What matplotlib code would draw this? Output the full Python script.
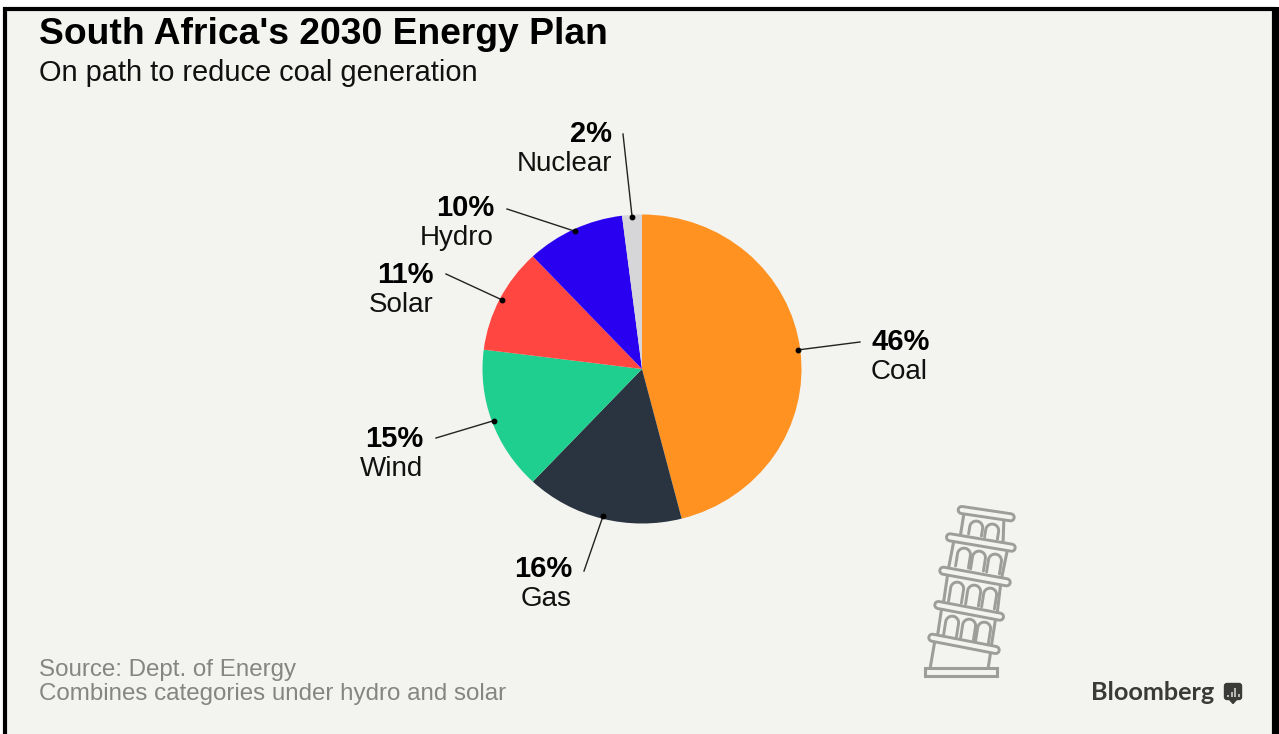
import numpy as np
from matplotlib import pyplot as plt
from matplotlib.patches import Rectangle, FancyBboxPatch

categories = ['Coal', 'Gas', 'Wind', 'Solar', 'Hydro', 'Nuclear']
shares = [46, 16, 15, 11, 10, 2]
colors = ['#ff9220', '#2a3440', '#1fcf90', '#ff4640', '#2a00f0', '#d6d6d8']

W, H = 1279, 734
BG = '#f3f3ef'
GRAY = '#9d9d99'
FONT = 'Liberation Sans'

# pie box in pixels, the source image is a little squashed
CX, CY = 642, 369
RX, RY = 159.5, 154.5

# leader outer ends and label anchors, in pixels
leader_ends = [(860, 342), (584, 571), (436, 438), (446, 274), (507, 209), (623, 134)]
label_x = [871, 572, 423, 434, 494, 612]
label_y = [342, 569, 439, 275, 208, 134]
label_ha = ['left', 'right', 'right', 'right', 'right', 'right']


def tower_line(ax, xs, ys, lw=2.2, color=GRAY, zorder=3, cap='round'):
    ax.plot(xs, ys, color=color, lw=lw, solid_capstyle=cap, solid_joinstyle='round', zorder=zorder)


def draw_band(ax, p0, p1):
    xs, ys = [p0[0], p1[0]], [p0[1], p1[1]]
    tower_line(ax, xs, ys, lw=7.2, zorder=5)
    tower_line(ax, xs, ys, lw=3.0, color=BG, zorder=6)


def draw_arch(ax, base, width, height, angle):
    # arch stands on the band below, rotated with the tower
    t = np.linspace(np.pi, 0, 30)
    r = width / 2
    x = np.concatenate([[-r], r * np.cos(t), [r]])
    y = np.concatenate([[0], height - r + r * np.sin(t), [0]])
    c, s = np.cos(angle), np.sin(angle)
    tower_line(ax, base[0] + c * x + s * y, base[1] + s * x - c * y, lw=2.1)


def draw_tower(ax):
    bands = [((961.7, 510.0), (1010.7, 517.3)),
             ((950.0, 537.3), (1011.7, 547.7)),
             ((943.3, 570.7), (1006.7, 582.3)),
             ((938.3, 605.0), (1000.0, 616.7)),
             ((932.3, 637.7), (995.7, 650.0))]
    walls = [((964, 513), (960, 538), (1004, 516), (1003, 544)),
             ((954, 540), (948, 571), (1008, 547), (1001, 581)),
             ((948, 572), (943, 606), (1001, 581), (997, 615)),
             ((942, 606), (937, 639), (996, 616), (991, 648)),
             ((935, 640), (930, 669), (991, 650), (988, 669))]
    arches = [[(975, 535), (991, 538)],
              [(962, 567), (977, 570), (993, 573)],
              [(955, 602), (972, 605), (988, 608)],
              [(950, 636), (967, 639), (982, 642)]]
    heights = [14, 19, 20, 20]
    for x0, x1, x2, x3 in walls:
        tower_line(ax, [x0[0], x1[0]], [x0[1], x1[1]])
        tower_line(ax, [x2[0], x3[0]], [x2[1], x3[1]])
    for row, height in zip(arches, heights):
        for base in row:
            draw_arch(ax, base, 13, height, np.radians(9))
    for p0, p1 in bands:
        draw_band(ax, p0, p1)
    ax.add_patch(Rectangle((925, 668), 72, 8, fc=BG, ec=GRAY, lw=2.2, zorder=5))


fig = plt.figure(figsize=(W / 100, H / 100), dpi=100, facecolor='white')

page = fig.add_axes([0, 0, 1, 1])
page.set_xlim(0, W)
page.set_ylim(H, 0)
page.axis('off')
page.add_patch(Rectangle((5, 8.5), 1269, 740, fc=BG, ec='black', lw=3.0, zorder=1))
page.add_patch(Rectangle((1274, 7), 5, H, fc='black', ec='none', zorder=1))

pie_ax = fig.add_axes([(CX - RX) / W, 1 - (CY + RY) / H, 2 * RX / W, 2 * RY / H], zorder=2)
pie_ax.pie(shares, colors=colors, startangle=90, counterclock=False, radius=1.0,
           wedgeprops={'linewidth': 0})
pie_ax.set_aspect('auto')
pie_ax.set_xlim(-1, 1)
pie_ax.set_ylim(-1, 1)

over = fig.add_axes([0, 0, 1, 1], zorder=3)
over.set_xlim(0, W)
over.set_ylim(H, 0)
over.axis('off')

over.text(39, 34, "South Africa's 2030 Energy Plan", fontsize=26.8, fontweight='bold',
          family=FONT, color='black', va='center', ha='left')
over.text(39, 73, 'On path to reduce coal generation', fontsize=20.9, family=FONT,
          color='#111111', va='center', ha='left')
over.text(39, 670, 'Source: Dept. of Energy', fontsize=17.4, family=FONT, color='#858583', va='center')
over.text(39, 694, 'Combines categories under hydro and solar', fontsize=17.4, family=FONT,
          color='#858583', va='center')

# leaders start on the rim at the middle of each slice
cum = np.cumsum([0] + shares)
for i, name in enumerate(categories):
    mid = np.radians((cum[i] + cum[i + 1]) / 2 * 3.6)
    dx = CX + 0.985 * RX * np.sin(mid)
    dy = CY - 0.985 * RY * np.cos(mid)
    ex, ey = leader_ends[i]
    over.plot([dx, ex], [dy, ey], color='#222222', lw=1.0, zorder=4)
    over.plot([dx], [dy], 'o', color='black', ms=3.2, zorder=5)
    over.text(label_x[i], label_y[i], f'{shares[i]}%', fontsize=21, fontweight='bold',
              family=FONT, color='black', ha=label_ha[i], va='center')
    over.text(label_x[i], label_y[i] + 30, name, fontsize=20, family=FONT,
              color='#111111', ha=label_ha[i], va='center')

draw_tower(over)

# Bloomberg mark
over.text(1214, 693, 'Bloomberg', fontsize=18.2, fontweight='bold', family='Lato',
          color='#3a3a38', ha='right', va='center')
over.add_patch(FancyBboxPatch((1224.5, 683.5), 17, 16, boxstyle='round,pad=0,rounding_size=2.5',
                              fc='#3a3a38', ec='#3a3a38', lw=1, zorder=5))
over.fill([1229, 1237, 1233], [699, 699, 703.5], color='#3a3a38', zorder=5)
for bx, bt in zip([1228, 1231.5, 1235, 1238.5], [695, 692, 688, 694]):
    over.plot([bx, bx], [697, bt], color='#d0d0cc', lw=1.2, zorder=6, solid_capstyle='butt')

fig.savefig('out.png', dpi=100, facecolor='white')
